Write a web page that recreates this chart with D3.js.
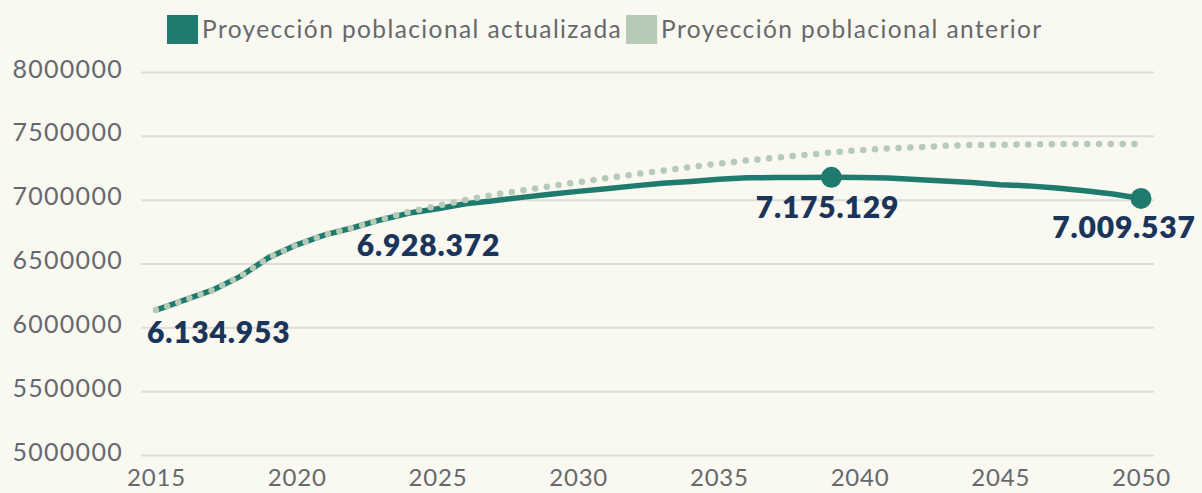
<!DOCTYPE html>
<html>
<head>
<meta charset="utf-8">
<script src="https://cdn.jsdelivr.net/npm/d3@7"></script>
<style>
  html, body { margin: 0; padding: 0; background: #f9f8f1; }
  svg { display: block; font-family: Lato, "Open Sans", sans-serif; }
</style>
</head>
<body>
<svg id="chart"></svg>
<script>
// data
const years = [2015, 2016, 2017, 2018, 2019, 2020, 2021, 2022, 2023, 2024, 2025, 2026,
  2027, 2028, 2029, 2030, 2031, 2032, 2033, 2034, 2035, 2036, 2037, 2038,
  2039, 2040, 2041, 2042, 2043, 2044, 2045, 2046, 2047, 2048, 2049, 2050];

const updated = [6134953, 6213000, 6291000, 6399000, 6546000, 6646000, 6724000, 6780000, 6843000, 6895000, 6928372, 6968000,
  6992000, 7018000, 7042000, 7065000, 7085000, 7108000, 7128000, 7143000, 7160000, 7171000, 7173000, 7174000,
  7175129, 7173000, 7170000, 7158000, 7147000, 7134000, 7117000, 7108000, 7092000, 7069000, 7045000, 7009537];

const previous = [6134953, 6213000, 6291000, 6399000, 6546000, 6646000, 6724000, 6781000, 6845000, 6905000, 6952000, 6998000,
  7038000, 7072000, 7105000, 7137000, 7168000, 7198000, 7228000, 7256000, 7283000, 7307000, 7328000, 7349000,
  7370000, 7388000, 7401000, 7411000, 7421000, 7428000, 7430000, 7433000, 7435000, 7437000, 7437000, 7437000];

const seriesNames = ["Proyección poblacional actualizada", "Proyección poblacional anterior"];
const yTicks = [5000000, 5500000, 6000000, 6500000, 7000000, 7500000, 8000000];
const xTicks = [2015, 2020, 2025, 2030, 2035, 2040, 2045, 2050];
const labelYears = [2015, 2025, 2039, 2050];
const markerYears = [2039, 2050];

const width = 1202, height = 493;
const colors = { updated: "#1f7b6d", previous: "#b6cbb6", label: "#1b3459", axis: "#66686c", grid: "#dedddb" };

const svg = d3.select("#chart").attr("width", width).attr("height", height);

const x = d3.scaleLinear().domain([2015, 2050]).range([156, 1141]);
const y = d3.scaleLinear().domain([5000000, 8000000]).range([455, 72]);
const gridLeft = 141, gridRight = 1154;

// Y axis + gridlines
const yAxis = svg.append("g")
  .attr("transform", `translate(${gridLeft},0)`)
  .call(d3.axisLeft(y).tickValues(yTicks).tickFormat(d3.format("d"))
    .tickSize(-(gridRight - gridLeft)).tickPadding(18));
yAxis.select(".domain").remove();
yAxis.selectAll(".tick line").attr("stroke", colors.grid).attr("stroke-width", 2);
yAxis.selectAll(".tick text")
  .attr("fill", colors.axis)
  .attr("dy", "0.2em")
  .style("font-size", "25px")
  .style("letter-spacing", "1.3px")
  .style("font-family", "Lato, sans-serif");

// X axis
const xAxis = svg.append("g")
  .attr("transform", "translate(0,455)")
  .call(d3.axisBottom(x).tickValues(xTicks).tickFormat(d3.format("d")).tickSize(0).tickPadding(14));
xAxis.select(".domain").remove();
xAxis.selectAll(".tick text")
  .attr("fill", colors.axis)
  .style("font-size", "24px")
  .style("letter-spacing", "0.8px")
  .style("font-family", "Lato, sans-serif");

const rows = years.map((yr, i) => ({ year: yr, updated: updated[i], previous: previous[i] }));

const line = key => d3.line().x(d => x(d.year)).y(d => y(d[key]));

svg.append("path")
  .datum(rows)
  .attr("fill", "none")
  .attr("stroke", colors.updated)
  .attr("stroke-width", 5.5)
  .attr("stroke-linejoin", "round")
  .attr("stroke-linecap", "round")
  .attr("d", line("updated"));

svg.append("path")
  .datum(rows)
  .attr("fill", "none")
  .attr("stroke", colors.previous)
  .attr("stroke-width", 6.5)
  .attr("stroke-linecap", "round")
  .attr("stroke-dasharray", "0 11.8")
  .attr("d", line("previous"));

// markers
svg.selectAll(".marker")
  .data(rows.filter(d => markerYears.includes(d.year)))
  .enter()
  .append("circle")
  .attr("class", "marker")
  .attr("cx", d => x(d.year))
  .attr("cy", d => y(d.updated))
  .attr("r", 10.5)
  .attr("fill", colors.updated);

// value labels
const es = d3.formatLocale({ decimal: ",", thousands: ".", grouping: [3], currency: ["", ""] });
const fmt = es.format(",d");
const labelPos = {
  2015: { dx: -9, dy: 33, anchor: "start" },
  2025: { dx: -9, dy: 47, anchor: "middle" },
  2039: { dx: -4, dy: 41, anchor: "middle" },
  2050: { dx: -17, dy: 40, anchor: "middle" }
};
svg.selectAll(".vlabel")
  .data(rows.filter(d => labelYears.includes(d.year)))
  .enter()
  .append("text")
  .attr("class", "vlabel")
  .attr("x", d => x(d.year) + labelPos[d.year].dx)
  .attr("y", d => y(d.updated) + labelPos[d.year].dy)
  .attr("text-anchor", d => labelPos[d.year].anchor)
  .attr("fill", colors.label)
  .style("font-size", "30px")
  .style("font-weight", "800")
  .style("letter-spacing", "0.8px")
  .text(d => fmt(d.updated));

// legend
const legend = svg.append("g").attr("transform", "translate(167,15)");
let lx = 0;
seriesNames.forEach((name, i) => {
  legend.append("rect")
    .attr("x", lx).attr("y", 0)
    .attr("width", 31).attr("height", 29)
    .attr("fill", i === 0 ? colors.updated : colors.previous);
  const t = legend.append("text")
    .attr("x", lx + 35).attr("y", 23)
    .attr("fill", colors.axis)
    .style("font-size", "24.5px")
    .style("letter-spacing", "1.4px")
    .text(name);
  lx += 35 + t.node().getComputedTextLength() + 4;
});
</script>
</body>
</html>
